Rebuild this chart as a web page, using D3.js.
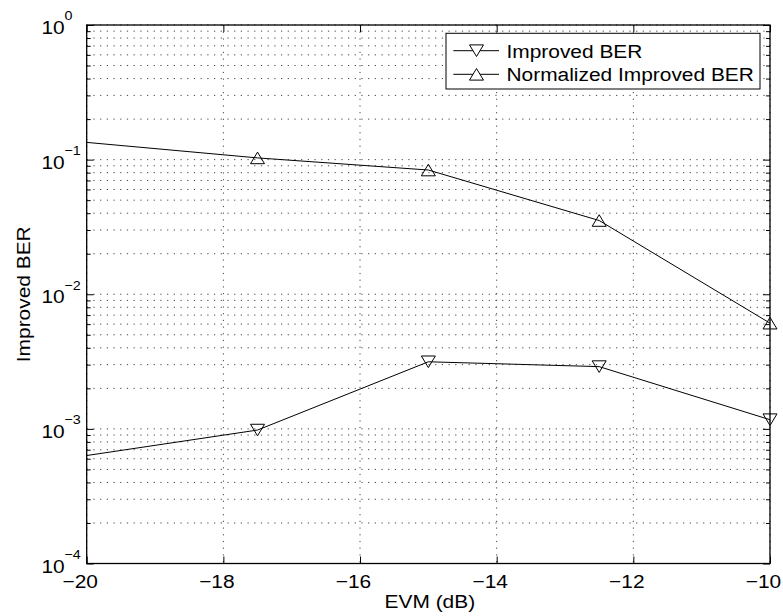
<!DOCTYPE html>
<html>
<head>
<meta charset="utf-8">
<script src="https://cdn.jsdelivr.net/npm/d3@7"></script>
<style>
  body { margin: 0; background: #fff; }
  svg { display: block; }
  text { font-family: "Liberation Sans", Arial, Helvetica, sans-serif; fill: #000; }
</style>
</head>
<body>
<svg id="chart" width="783" height="616"></svg>
<script>
// ---- data ----
const evm = [-22.5, -17.5, -15, -12.5, -10];
const improvedBER = [0.00041, 0.00098, 0.00315, 0.0029, 0.00117];
const normalizedBER = [0.175, 0.103, 0.0837, 0.0353, 0.0061];
const xTicks = [-20, -18, -16, -14, -12, -10];
const xTickLabels = ["\u221220", "\u221218", "\u221216", "\u221214", "\u221212", "\u221210"];
const yExponents = [-4, -3, -2, -1, 0];
const yExpLabels = ["\u22124", "\u22123", "\u22122", "\u22121", "0"];
const seriesNames = ["Improved BER", "Normalized Improved BER"];
const xLabel = "EVM (dB)";
const yLabel = "Improved BER";

// ---- layout ----
const L = 86.7, R = 770, T = 25, B = 563.5;
const SX = 1.1; // horizontal text stretch
const svg = d3.select("#chart");

const x = d3.scaleLinear().domain([-20, -10]).range([L, R]);
const y = d3.scaleLog().domain([1e-4, 1]).range([B, T]);

const majorY = yExponents.map(e => Math.pow(10, e));
const minorY = [];
for (let e = -4; e < 0; e++) for (let m = 2; m <= 9; m++) minorY.push(m * Math.pow(10, e));

const gridStyle = g => g.attr("stroke", "#444").attr("stroke-width", 1).attr("stroke-dasharray", "1.2,5.5").attr("fill", "none");

svg.append("defs").append("clipPath").attr("id", "clip")
  .append("rect").attr("x", L).attr("y", T).attr("width", R - L).attr("height", B - T);

// grid
const grid = svg.append("g");
grid.selectAll(".gy").data(majorY.concat(minorY)).enter().append("line")
  .attr("x1", L).attr("x2", R).attr("y1", d => y(d)).attr("y2", d => y(d)).call(gridStyle);
grid.selectAll(".gx").data(xTicks).enter().append("line")
  .attr("y1", T).attr("y2", B).attr("x1", d => x(d)).attr("x2", d => x(d)).call(gridStyle);

// axes ticks via d3 axes (inside ticks)
function axisStyle(g) {
  g.select(".domain").remove();
  g.selectAll(".tick line").attr("stroke", "#000").attr("stroke-width", 1);
  g.selectAll(".tick text").remove();
}
svg.append("g").attr("transform", `translate(0,${B})`)
  .call(d3.axisBottom(x).tickValues(xTicks).tickSize(-7).tickFormat("")).call(axisStyle);
svg.append("g").attr("transform", `translate(0,${T})`)
  .call(d3.axisTop(x).tickValues(xTicks).tickSize(-7).tickFormat("")).call(axisStyle);
svg.append("g").attr("transform", `translate(${L},0)`)
  .call(d3.axisLeft(y).tickValues(majorY).tickSize(-7).tickFormat("")).call(axisStyle);
svg.append("g").attr("transform", `translate(${R},0)`)
  .call(d3.axisRight(y).tickValues(majorY).tickSize(-7).tickFormat("")).call(axisStyle);
svg.append("g").attr("transform", `translate(${L},0)`)
  .call(d3.axisLeft(y).tickValues(minorY).tickSize(-4).tickFormat("")).call(axisStyle);
svg.append("g").attr("transform", `translate(${R},0)`)
  .call(d3.axisRight(y).tickValues(minorY).tickSize(-4).tickFormat("")).call(axisStyle);

// box
svg.append("rect").attr("x", L).attr("y", T).attr("width", R - L).attr("height", B - T)
  .attr("fill", "none").attr("stroke", "#000").attr("stroke-width", 1.3);

// x tick labels
svg.selectAll(".xtl").data(xTicks).enter().append("text")
  .attr("transform", d => `translate(${x(d) - 6.5},588) scale(${SX},1)`)
  .attr("text-anchor", "middle").attr("font-size", 19)
  .text((d, i) => xTickLabels[i]);

// y tick labels
const ytl = svg.selectAll(".ytl").data(majorY).enter().append("g");
ytl.append("text")
  .attr("transform", d => `translate(41.5,${y(d) + 9}) scale(${SX},1)`)
  .attr("font-size", 19).text("10");
ytl.append("text")
  .attr("transform", d => `translate(64.5,${y(d) - 4.7}) scale(${SX},1)`)
  .attr("font-size", 13).text((d, i) => yExpLabels[i]);

// axis labels
svg.append("text").attr("transform", `translate(${(L + R) / 2 + 1.5},608) scale(${SX},1)`)
  .attr("text-anchor", "middle").attr("font-size", 19).text(xLabel);
svg.append("text").attr("transform", `translate(29.5,${(T + B) / 2}) rotate(-90) scale(${SX},1)`)
  .attr("text-anchor", "middle").attr("font-size", 19).text(yLabel);

// markers
const triDown = "M-7,-5.8L7,-5.8L0,5.8Z";
const triUp = "M-7,5.8L7,5.8L0,-5.8Z";

const line = d3.line().x(d => x(d[0])).y(d => y(d[1]));
const series = [
  { name: seriesNames[0], vals: improvedBER, marker: triDown },
  { name: seriesNames[1], vals: normalizedBER, marker: triUp }
];
const plot = svg.append("g");
const [xmin, xmax] = x.domain();
series.forEach(s => {
  const pts = evm.map((e, i) => [e, s.vals[i]]);
  plot.append("path").attr("d", line(pts)).attr("clip-path", "url(#clip)")
    .attr("fill", "none").attr("stroke", "#000").attr("stroke-width", 1);
  plot.selectAll(null).data(pts.filter(d => d[0] >= xmin && d[0] <= xmax)).enter().append("path")
    .attr("transform", d => `translate(${x(d[0])},${y(d[1])})`)
    .attr("d", s.marker).attr("fill", "none").attr("stroke", "#000").attr("stroke-width", 1);
});

// legend
const lg = svg.append("g");
lg.append("rect").attr("x", 446).attr("y", 33.3).attr("width", 314).attr("height", 55.7)
  .attr("fill", "#fff").attr("stroke", "#000").attr("stroke-width", 1);
const rowsY = [50.7, 74.3];
series.forEach((s, i) => {
  lg.append("line").attr("x1", 453.3).attr("x2", 499).attr("y1", rowsY[i]).attr("y2", rowsY[i])
    .attr("stroke", "#000").attr("stroke-width", 1);
  lg.append("path").attr("transform", `translate(476.5,${rowsY[i]})`).attr("d", s.marker)
    .attr("fill", "#fff").attr("stroke", "#000").attr("stroke-width", 1);
  lg.append("text").attr("transform", `translate(506.5,${rowsY[i] + 6.8}) scale(${SX},1)`)
    .attr("font-size", 19).text(s.name);
});
</script>
</body>
</html>
